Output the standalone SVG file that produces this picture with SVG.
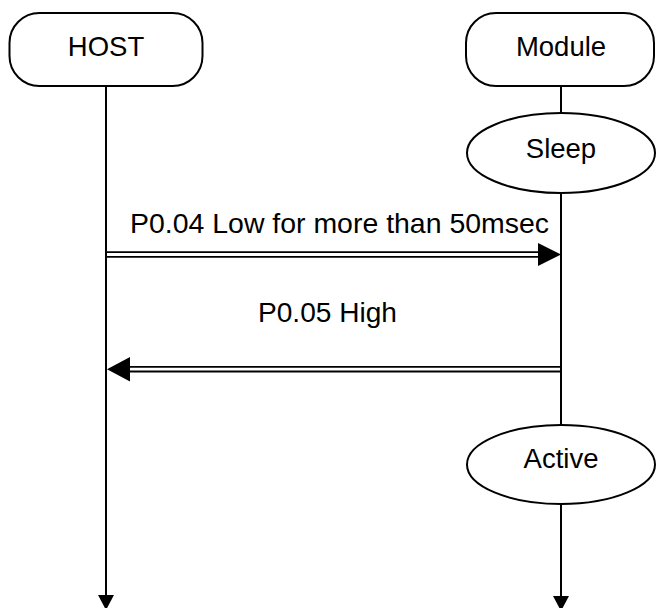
<svg xmlns="http://www.w3.org/2000/svg" width="656" height="608" viewBox="0 0 656 608">
<style>
.box{fill:#fff;stroke:#000;stroke-width:2}
.t{font-family:"Liberation Sans",Arial,sans-serif;font-size:27.5px;fill:#000}
.c{text-anchor:middle}
.life{stroke:#000;stroke-width:2;fill:none}
.dbl-o{stroke:#000;stroke-width:6.5;fill:none}
.dbl-i{stroke:#fff;stroke-width:2.8;fill:none}
.head{fill:#000;stroke:none}
</style>
<rect width="656" height="608" fill="#fff"/>
<g id="connectors">
  <line class="life" x1="106" y1="86" x2="106" y2="598"/>
  <polygon class="head" points="98,595 114,595 106,610"/>
  <line class="life" x1="561" y1="86" x2="561" y2="113"/>
  <line class="life" x1="561" y1="193" x2="561" y2="425"/>
  <line class="life" x1="561" y1="504" x2="561" y2="599"/>
  <polygon class="head" points="553,596 569,596 561,611"/>
  <g id="msg1">
    <line class="dbl-o" x1="106" y1="254.5" x2="541" y2="254.5"/>
    <line class="dbl-i" x1="107" y1="254.5" x2="541" y2="254.5"/>
    <polygon class="head" points="538,243 561,254.5 538,266"/>
    <text class="t" x="130" y="233" textLength="419" lengthAdjust="spacingAndGlyphs">P0.04 Low for more than 50msec</text>
  </g>
  <g id="msg2">
    <line class="dbl-o" x1="128" y1="369.2" x2="561" y2="369.2"/>
    <line class="dbl-i" x1="128" y1="369.2" x2="560" y2="369.2"/>
    <polygon class="head" points="130,357 107,369.2 130,381.5"/>
    <text class="t" x="258" y="322" textLength="139" lengthAdjust="spacingAndGlyphs">P0.05 High</text>
  </g>
</g>
<g id="host">
  <rect class="box" x="9.5" y="13" width="193" height="73" rx="30" ry="30"/>
  <text class="t c" x="106" y="56">HOST</text>
</g>
<g id="module">
  <rect class="box" x="466" y="13" width="188" height="73" rx="30" ry="30"/>
  <text class="t c" x="561" y="56">Module</text>
</g>
<g id="sleep">
  <ellipse class="box" cx="561" cy="153" rx="94" ry="40"/>
  <text class="t c" x="561" y="158">Sleep</text>
</g>
<g id="active">
  <ellipse class="box" cx="561" cy="464.5" rx="94" ry="39.5"/>
  <text class="t c" x="561" y="468">Active</text>
</g>
</svg>
